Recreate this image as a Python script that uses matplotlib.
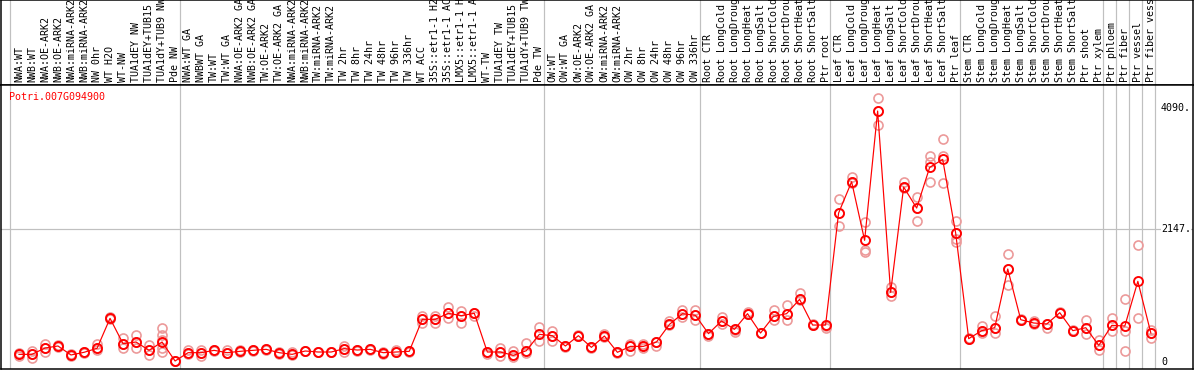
import matplotlib
matplotlib.use("Agg")
import matplotlib.pyplot as plt
import matplotlib.transforms as mtransforms

gene = "Potri.007G094900"

labels = [
    "NWA:WT", "NWB:WT", "NWA:OE-ARK2", "NWB:OE-ARK2", "NWA:miRNA-ARK2",
    "NWB:miRNA-ARK2", "NW 0hr", "WT H2O", "WT-NW", "TUA1dEY NW",
    "TUA1dEY+TUB15 NW", "TUA1dY+TUB9 NW", "Pde NW",
    "NWA:WT GA", "NWBWT GA", "TW:WT", "TW:WT GA", "NWA:OE-ARK2 GA",
    "NWB:OE-ARK2 GA", "TW:OE-ARK2", "TW:OE-ARK2 GA", "NWA:miRNA-ARK2",
    "NWB:miRNA-ARK2", "TW:miRNA-ARK2", "TW:miRNA-ARK2", "TW 2hr", "TW 8hr",
    "TW 24hr", "TW 48hr", "TW 96hr", "TW 336hr", "WT ACC",
    "35S::etr1-1 H2O", "35S::etr1-1 ACC", "LMX5::etr1-1 H2O",
    "LMX5::etr1-1 ACC", "WT-TW", "TUA1dEY TW", "TUA1dEY+TUB15 TW",
    "TUA1dY+TUB9 TW", "Pde TW",
    "OW:WT", "OW:WT GA", "OW:OE-ARK2", "OW:OE-ARK2 GA", "OW:miRNA-ARK2",
    "OW:miRNA-ARK2", "OW 2hr", "OW 8hr", "OW 24hr", "OW 48hr", "OW 96hr",
    "OW 336hr",
    "Root CTR", "Root LongCold", "Root LongDrought", "Root LongHeat",
    "Root LongSalt", "Root ShortCold", "Root ShortDrought", "Root ShortHeat",
    "Root ShortSalt", "Ptr root",
    "Leaf CTR", "Leaf LongCold", "Leaf LongDrought", "Leaf LongHeat",
    "Leaf LongSalt", "Leaf ShortCold", "Leaf ShortDrought", "Leaf ShortHeat",
    "Leaf ShortSalt", "Ptr leaf",
    "Stem CTR", "Stem LongCold", "Stem LongDrought", "Stem LongHeat",
    "Stem LongSalt", "Stem ShortCold", "Stem ShortDrought", "Stem ShortHeat",
    "Stem ShortSalt", "Ptr shoot", "Ptr xylem",
    "Ptr phloem", "Ptr fiber", "Ptr vessel", "Ptr fiber vessel",
]

means = [
    118, 118, 220, 253, 108, 151, 215, 699, 290, 317, 183, 317, 11,
    145, 145, 183, 145, 167, 183, 199, 145, 118, 172, 156, 156, 210, 188,
    199, 145, 156, 167, 683, 683, 780, 742, 780, 156, 156, 102, 177, 441,
    419, 253, 419, 231, 414, 151, 247, 247, 317, 602, 774, 747,
    452, 656, 522, 774, 462, 731, 774, 1005, 591, 591,
    2398, 2903, 1957, 4043, 1118, 2817, 2478, 3134, 3263, 2070,
    371, 500, 548, 1495, 677, 624, 608, 790, 500, 548, 263,
    586, 575, 1296, 462,
]

reps = [
    [134, 118, 97], [172, 118, 54], [280, 220, 161], [269, 253, 240],
    [97, 108, 118], [161, 151, 140], [280, 215, 188], [715, 699, 690],
    [376, 290, 215], [430, 317, 215], [269, 183, 108],
    [538, 430, 349, 215, 161], [11, 11, 5],
    [183, 145, 129], [183, 145, 97], [190, 183, 175], [183, 145, 140],
    [183, 167, 160], [190, 183, 175], [183, 199, 205], [118, 145, 150],
    [161, 118, 110], [172, 165, 180], [156, 150, 162], [156, 150, 162],
    [258, 210, 161], [188, 180, 195], [199, 190, 205], [118, 145, 150],
    [188, 156, 150], [167, 160, 172], [742, 683, 629], [742, 683, 629],
    [887, 780, 710], [817, 742, 618], [780, 737, 790], [118, 156, 150],
    [215, 156, 97], [172, 102, 81], [296, 177, 134], [554, 441, 333],
    [495, 419, 333], [231, 253, 245], [430, 419, 410], [231, 240, 225],
    [441, 414, 405], [161, 151, 145], [290, 247, 177], [280, 247, 215],
    [258, 317, 310], [656, 602, 595], [833, 774, 715], [833, 747, 672],
    [419, 452, 445], [726, 656, 602], [473, 522, 515], [806, 774, 765],
    [462, 455, 470], [833, 731, 672], [914, 774, 667], [1102, 1005, 995],
    [602, 591, 585], [538, 591, 580],
    [2618, 2398, 2188], [2984, 2903, 2890], [2258, 1801, 1774],
    [4247, 4043, 3817], [1204, 1118, 1064], [2903, 2817, 2800],
    [2650, 2478, 2263], [3317, 3226, 2892], [3591, 3317, 2876],
    [2263, 1978, 1935, 2070],
    [371, 365, 378], [575, 500, 457], [737, 548, 457], [1731, 1495, 1237],
    [677, 670, 685], [656, 624, 610], [548, 608, 615], [790, 785, 798],
    [500, 495, 508], [667, 548, 441], [349, 263, 188],
    [699, 586, 495], [1005, 495, 172], [1876, 699], [511, 462, 376],
]

# last sample index of each group (gray separators drawn just after them)
group_ends = [-1, 12, 40, 52, 62, 72, 83, 84, 85, 86, 87]

ytick_vals = [0, 2147, 4090]
ytick_text = ["0", "2147.", "4090."]

W, H = 1194, 370
mono = "DejaVu Sans Mono"
grid_c = "#c0c0c0"
px = 0.72  # one pixel in points at dpi 100

fig = plt.figure(figsize=(W / 100, H / 100), dpi=100)
fig.patch.set_facecolor("white")

ax_top = fig.add_axes([1 / W, (H - 85) / H, (W - 2) / W, 85 / H])
ax = fig.add_axes([1 / W, 0.7 / H, (W - 2) / W, (369.3 - 85) / H])

xs = list(range(len(labels)))
xlim = (-1.38, 90.24)

for a in (ax, ax_top):
    a.set_xlim(*xlim)
    a.set_xticks([])
    a.set_yticks([])
    for s in a.spines.values():
        s.set_color("black")
        s.set_linewidth(1.5 * px)
        s.set_zorder(5)
    for g in group_ends:
        a.axvline(g + 0.35, color=grid_c, lw=1.2 * px, zorder=0)

ax_top.set_ylim(0, 1)
for x, lab in zip(xs, labels):
    ax_top.text(x, 3 / 85, lab, rotation=90, ha="center", va="bottom",
                family=mono, fontsize=7.2, color="black", clip_on=True)

ax.set_ylim(-123, 4463)
ax.axhline(2147, color=grid_c, lw=1.2 * px, zorder=0)

# replicate samples
for x, vals in zip(xs, reps):
    ax.plot([x] * len(vals), vals, ls="none", marker="o", ms=6.5,
            mfc="none", mec="#ec9a9a", mew=1.2, zorder=2)

ax.plot(xs, means, color="red", lw=1.2 * px, marker="o", ms=6.5,
        mfc="none", mec="red", mew=1.9 * px, zorder=3)

ax.text(8 / (W - 2), 1 - 12 / 284.3, gene, transform=ax.transAxes,
        ha="left", va="center", family=mono, fontsize=7.2, color="red")

trans = mtransforms.blended_transform_factory(ax.transAxes, ax.transData)
for v, t in zip(ytick_vals, ytick_text):
    ax.text((1161 - 1) / (W - 2), v, t, transform=trans, ha="left",
            va="center", family=mono, fontsize=7.2, color="black",
            bbox=dict(facecolor="white", edgecolor="none", pad=0), zorder=4)

fig.savefig("out.png", dpi=100)
